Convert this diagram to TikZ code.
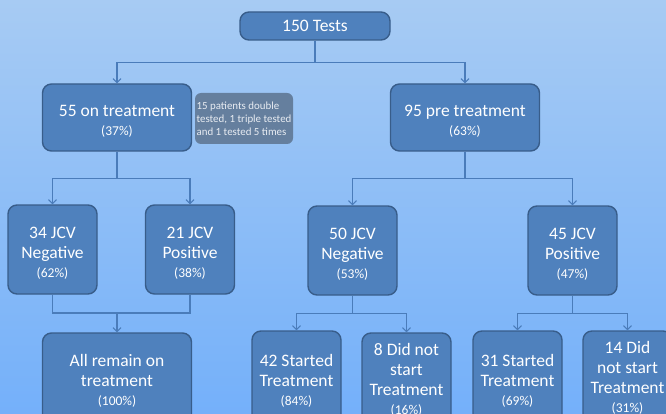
\documentclass[tikz,border=0pt]{standalone}
\usepackage{fontspec}
\setmainfont{Carlito}
\usetikzlibrary{arrows.meta}
\definecolor{bgtop}{RGB}{167,203,243}
\definecolor{bgbot}{RGB}{116,176,250}
\definecolor{boxfill}{RGB}{79,129,189}
\definecolor{boxline}{RGB}{56,93,138}
\definecolor{notefill}{RGB}{101,127,158}
\definecolor{notetext}{RGB}{232,236,242}
\definecolor{connline}{RGB}{74,124,186}
\newcommand{\bigtxt}{\fontsize{17.5}{20}\selectfont}
\newcommand{\pct}[1]{\\[-1pt]{\fontsize{13.5}{16}\selectfont #1}}
\newcommand{\lowr}{\rule{0pt}{18pt}}
\tikzset{
  box/.style={draw=boxline, fill=boxfill, line width=1.4pt, rounded corners=9pt,
    text=white, align=center, inner sep=0pt, font=\bigtxt},
  wide/.style={box, minimum width=149pt, minimum height=67pt},
  sq/.style={box, minimum width=89pt, minimum height=89pt},
  tall/.style={box, minimum width=89pt, minimum height=94pt},
  notebox/.style={fill=notefill, rounded corners=6pt, text=notetext, align=left,
    inner sep=0pt, minimum width=98pt, minimum height=51pt,
    font=\fontsize{10.9}{13.2}\selectfont},
  conn/.style={draw=connline, line width=1.1pt, -{Straight Barb[length=4pt,width=8pt,line width=1pt]}},
  plain/.style={draw=connline, line width=1.1pt}
}
\begin{document}
\begin{tikzpicture}[x=1pt,y=-1pt]
\shade[top color=bgtop, bottom color=bgbot] (0,0) rectangle (666,414);
\useasboundingbox (0,0) rectangle (666,414);
\clip (0,0) rectangle (666,414);

\node[box, minimum width=150pt, minimum height=28pt] (t150) at (315,26) {150 Tests};
\node[wide] (on) at (117,117.5) {\lowr 55 on treatment\pct{(37\%)}};
\node[wide] (pre) at (465,117.5) {\lowr 95 pre treatment\pct{(63\%)}};
\node[notebox] (note) at (244,118.5) {15 patients double\\tested, 1 triple tested\\and 1 tested 5 times};

\node[sq] (n34) at (52.5,249.5) {\lowr 34 JCV\\Negative\pct{(62\%)}};
\node[sq] (n21) at (190,249.5) {\lowr 21 JCV\\Positive\pct{(38\%)}};
\node[sq] (n50) at (352.5,250.5) {\lowr 50 JCV\\Negative\pct{(53\%)}};
\node[sq] (n45) at (572.5,250.5) {\lowr 45 JCV\\Positive\pct{(47\%)}};

\node[box, minimum width=149pt, minimum height=90pt] (all) at (117,378) {\lowr All remain on\\treatment\pct{(100\%)}};
\node[tall] (s42) at (296.5,378) {\lowr 42 Started\\Treatment\pct{(84\%)}};
\node[tall] (d8) at (406.5,380) {8 Did not\\start\\Treatment\pct{(16\%)}};
\node[tall] (s31) at (517.5,378) {\lowr 31 Started\\Treatment\pct{(69\%)}};
\node[tall] (d14) at (627.5,378) {14 Did\\not start\\Treatment\pct{(31\%)}};

\draw[conn] (t150.south) -- ++(0,22) -| (on.north);
\draw[conn] (t150.south) -- ++(0,22) -| (pre.north);
\draw[conn] (on.south) -- ++(0,27) -| (n34.north);
\draw[conn] (on.south) -- ++(0,27) -| (n21.north);
\draw[conn] (pre.south) -- ++(0,27) -| (n50.north);
\draw[conn] (pre.south) -- ++(0,27) -| (n45.north);

\coordinate (jA) at (117,313);
\draw[plain] (n34.south) |- (jA);
\draw[plain] (n21.south) |- (jA);
\draw[conn] (jA) -- (all.north);
\draw[conn] (n50.south) -- ++(0,18) -| (s42.north);
\draw[conn] (n50.south) -- ++(0,18) -| (d8.north);
\draw[conn] (n45.south) -- ++(0,18) -| (s31.north);
\draw[conn] (n45.south) -- ++(0,18) -| (d14.north);
\end{tikzpicture}
\end{document}
